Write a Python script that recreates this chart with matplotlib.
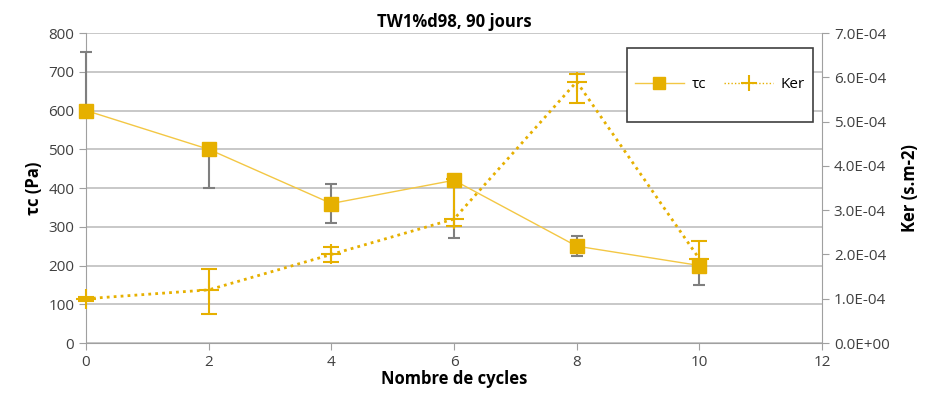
import numpy as np
import matplotlib.pyplot as plt
from matplotlib.patches import Rectangle

plt.rcParams['font.family'] = ['Open Sans', 'DejaVu Sans']

cycles = [0, 2, 4, 6, 8, 10]
tau = [600, 500, 360, 420, 250, 200]
tau_err_low = [0, 100, 50, 150, 25, 50]
tau_err_high = [150, 0, 50, 0, 25, 0]
ker = [1.0e-4, 1.2e-4, 2.0e-4, 2.8e-4, 5.9e-4, 1.9e-4]
ker_err_low = [0.05e-4, 0.54e-4, 0.17e-4, 0.15e-4, 0.48e-4, 0.0]
ker_err_high = [0.05e-4, 0.47e-4, 0.17e-4, 0.9e-4, 0.17e-4, 0.4e-4]

gold = '#E6B000'
light_gold = '#F3C744'
grey = '#7F7F7F'

fig = plt.figure(figsize=(9.43, 4.01), dpi=100)
ax = fig.add_axes([0.0912, 0.1446, 0.7805, 0.7731])
ax2 = ax.twinx()

eb1 = ax.errorbar(cycles, tau, yerr=[tau_err_low, tau_err_high], fmt='none',
                  ecolor=grey, elinewidth=1.5, capsize=4, capthick=1.5, zorder=3)
l1, = ax.plot(cycles, tau, color=light_gold, lw=1, marker='s', ms=10,
              mfc=gold, mec=gold, zorder=4, label='τc', clip_on=False)

eb2 = ax2.errorbar(cycles, ker, yerr=[ker_err_low, ker_err_high], fmt='none',
                   ecolor=gold, elinewidth=1.5, capsize=6, capthick=1.5, zorder=3)
l2, = ax2.plot(cycles, ker, color=gold, lw=2, ls=(0, (1, 1.5)), marker='+',
               ms=14, mew=1.5, label='Ker', zorder=4, clip_on=False)

for eb in (eb1, eb2):
    for art in eb.get_children():
        art.set_clip_on(False)

ax.set_xlim(0, 12)
ax.set_ylim(0, 800)
ax.set_xticks(range(0, 13, 2))
ax.set_yticks(range(0, 801, 100))
ax2.set_ylim(0, 7e-4)
ax2.set_yticks(np.arange(0, 7.01e-4, 1e-4))
ax2.set_yticklabels(['%.1E' % v for v in np.arange(0, 7.01e-4, 1e-4)])

ax.grid(axis='y', color='#BFBFBF', lw=1.2)
ax.set_axisbelow(True)
for a in (ax, ax2):
    for s in a.spines.values():
        s.set_visible(False)
ax.spines['left'].set_visible(True)
ax.spines['left'].set_color('#A0A0A0')
ax.spines['bottom'].set_visible(True)
ax.spines['bottom'].set_color('#A0A0A0')
ax2.spines['right'].set_visible(True)
ax2.spines['right'].set_color('#A0A0A0')

ax.tick_params(axis='both', colors='#A0A0A0', labelcolor='#404040', labelsize=11, length=5)
ax2.tick_params(axis='y', colors='#A0A0A0', labelcolor='#404040', labelsize=11, length=5)

ax.set_title('TW1%d98, 90 jours', fontsize=12, fontweight='bold', pad=4)
ax.set_xlabel('Nombre de cycles', fontsize=12, fontweight='bold', labelpad=0)
ax.set_ylabel('τc (Pa)', fontsize=12, fontweight='bold')
ax2.set_ylabel('Ker (s.m-2)', fontsize=12, fontweight='bold', labelpad=8)

# legend box drawn separately, legend entries centred inside it
box = (627 / 943, 1 - 122 / 401, 186 / 943, 74 / 401)
ax2.add_patch(Rectangle(box[:2], box[2], box[3], transform=fig.transFigure,
                        facecolor='white', edgecolor='#404040', lw=1.2,
                        zorder=5, clip_on=False))
leg = ax2.legend(handles=[l1, l2], ncol=2, loc='center',
                 bbox_to_anchor=(box[0] + box[2] / 2, box[1] + box[3] / 2),
                 bbox_transform=fig.transFigure, frameon=False, fontsize=11,
                 handlelength=3.2, handletextpad=0.5, columnspacing=1.2,
                 markerscale=0.8)
leg.set_zorder(6)
for h in leg.legend_handles:
    h.set_linewidth(1)

fig.savefig('out.png', dpi=100)
